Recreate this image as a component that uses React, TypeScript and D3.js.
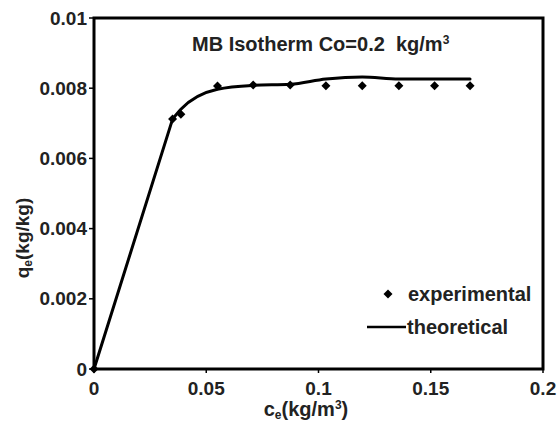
import React from "react";
import { scaleLinear, line, curveMonotoneX, curveLinear } from "d3";

const expX = [0, 0.035, 0.0387, 0.055, 0.0709, 0.0874, 0.1033, 0.1195, 0.1358, 0.1517, 0.1675];
const expY = [0, 0.00712, 0.00726, 0.00806, 0.00809, 0.00809, 0.00807, 0.00807, 0.00807, 0.00807, 0.00807];
const theoX = [0, 0.035, 0.0387, 0.055, 0.0709, 0.0874, 0.1033, 0.1195, 0.1358, 0.1517, 0.1675];
const theoY = [0, 0.00712, 0.0074, 0.00797, 0.00808, 0.00811, 0.00826, 0.00832, 0.00826, 0.00826, 0.00826];
const xTicks = [0, 0.05, 0.1, 0.15, 0.2];
const yTicks = [0, 0.002, 0.004, 0.006, 0.008, 0.01];

const W = 558;
const H = 424;
const m = { left: 94, right: 15, top: 18, bottom: 55 };
const font = "Liberation Sans, Arial, sans-serif";

// small diamond marker
const diamond = (r: number) => `M0,${-r}L${r},0L0,${r}L${-r},0Z`;

export default function App() {
  const x = scaleLinear().domain([0, 0.2]).range([m.left, W - m.right]);
  const y = scaleLinear().domain([0, 0.01]).range([H - m.bottom, m.top]);

  const pts = theoX.map((v, i) => [v, theoY[i]] as [number, number]);
  // straight rise from the origin, then a smoothed plateau
  const rise = line<[number, number]>()
    .x((d) => x(d[0]))
    .y((d) => y(d[1]))
    .curve(curveLinear)(pts.slice(0, 2));
  const plateau = line<[number, number]>()
    .x((d) => x(d[0]))
    .y((d) => y(d[1]))
    .curve(curveMonotoneX)(pts.slice(1));

  return (
    <svg width={W} height={H} style={{ position: "absolute", left: 0, top: 0, background: "#fff" }}>
      <g fontFamily={font} fontWeight="bold" fill="#222">
        {yTicks.map((t) => (
          <g key={"y" + t}>
            <line x1={m.left - 5} x2={m.left} y1={y(t)} y2={y(t)} stroke="#000" strokeWidth={1.5} />
            <text x={m.left - 7} y={y(t) + 6.5} textAnchor="end" fontSize={19}>
              {String(t)}
            </text>
          </g>
        ))}
        {xTicks.map((t) => (
          <g key={"x" + t}>
            <line x1={x(t)} x2={x(t)} y1={y(0)} y2={y(0) + 4} stroke="#000" strokeWidth={1.5} />
            <text x={x(t)} y={y(0) + 26} textAnchor="middle" fontSize={19}>
              {String(t)}
            </text>
          </g>
        ))}
        <text transform={`translate(29,238) rotate(-90)`} textAnchor="middle" fontSize={19}>
          q<tspan fontSize={12} dy={3}>e</tspan>
          <tspan dy={-3}>(kg/kg)</tspan>
        </text>
        <text x={306} y={416} textAnchor="middle" fontSize={20}>
          c<tspan fontSize={12} dy={3}>e</tspan>
          <tspan dy={-3}>(kg/m</tspan>
          <tspan fontSize={12} dy={-7}>3</tspan>
          <tspan dy={7}>)</tspan>
        </text>
        <text x={192} y={51} fontSize={20}>
          MB Isotherm Co=0.2{"\u00a0\u00a0"}kg/m<tspan fontSize={12} dy={-7}>3</tspan>
        </text>
        <path d={diamond(4.5)} transform="translate(388,294)" fill="#000" />
        <text x={408} y={301} fontSize={20}>experimental</text>
        <line x1={367} x2={406} y1={327} y2={327} stroke="#000" strokeWidth={2.5} />
        <text x={407} y={334} fontSize={20}>theoretical</text>
      </g>
      <path d={rise || ""} fill="none" stroke="#000" strokeWidth={3} strokeLinecap="round" />
      <path d={plateau || ""} fill="none" stroke="#000" strokeWidth={3} strokeLinecap="round" />
      {expX.map((v, i) => (
        <path key={i} d={diamond(4.5)} transform={`translate(${x(v)},${y(expY[i])})`} fill="#000" />
      ))}
      <rect x={m.left} y={m.top} width={W - m.left - m.right} height={H - m.top - m.bottom} fill="none" stroke="#000" strokeWidth={3} />
    </svg>
  );
}
